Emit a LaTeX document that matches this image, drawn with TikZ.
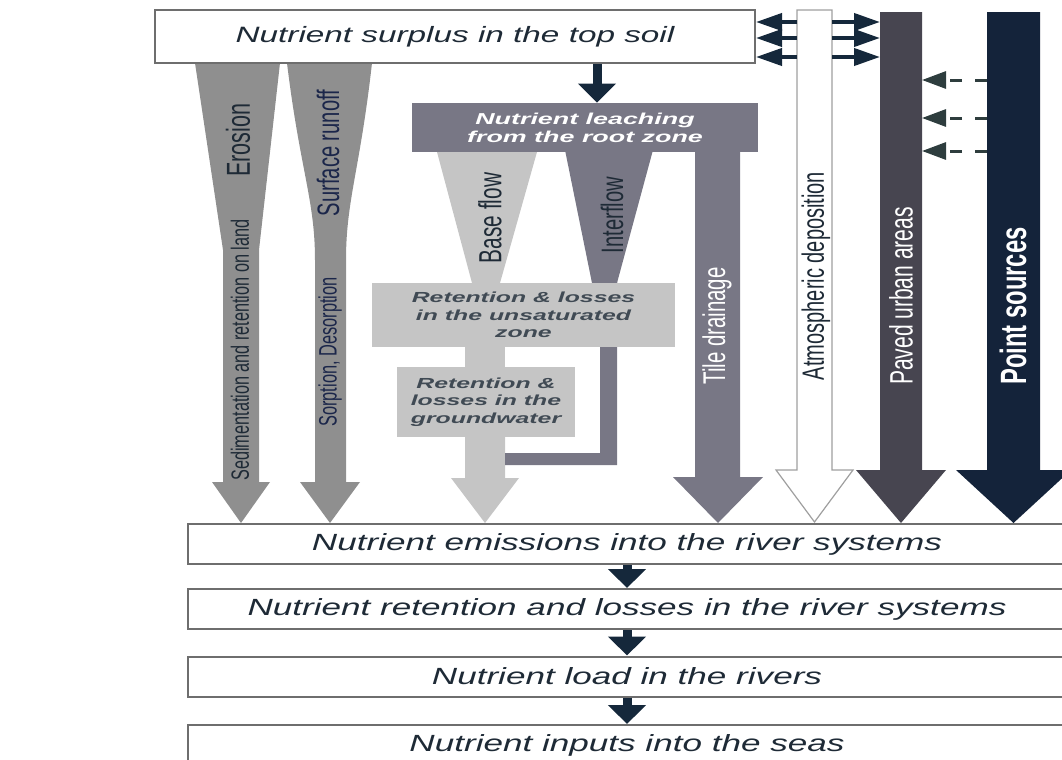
\documentclass[tikz,border=0pt]{standalone}
\usepackage{fontspec}
\setmainfont{Liberation Sans}
\newfontfamily\widesans[FakeStretch=1.5]{Liberation Sans}
\newfontfamily\zonesans[FakeStretch=1.7]{Liberation Sans}
\newfontfamily\narrowsans[FakeStretch=0.65]{Liberation Sans}
\usepackage{tikz}
\usetikzlibrary{arrows.meta,positioning}
\definecolor{ErosionGray}{HTML}{8F8F8F}
\definecolor{ZoneGray}{HTML}{C5C5C5}
\definecolor{LeachGray}{HTML}{787785}
\definecolor{UrbanGray}{HTML}{474550}
\definecolor{PointNavy}{HTML}{14233A}
\definecolor{ArrowNavy}{HTML}{15283B}
\definecolor{DashSlate}{HTML}{2E3D3E}
\definecolor{BorderGray}{HTML}{6E6E6E}
\definecolor{TextDark}{HTML}{1E2A36}
\tikzset{
    % Base box style
    basebox/.style={
        draw=BorderGray,
        fill=white,
        line width=1pt,
        inner sep=0pt,
        align=center,
        text=TextDark
    },
    % Soil box style
    soilbox/.style={
        basebox,
        minimum width=300pt,
        minimum height=26.5pt,
        font=\widesans\itshape\fontsize{11.1}{13}\selectfont
    },
    % River chain box style
    riverbox/.style={
        basebox,
        minimum width=439pt,
        minimum height=20pt,
        font=\widesans\itshape\fontsize{11.7}{13}\selectfont
    },
    % Leaching box style
    leachbox/.style={
        fill=LeachGray,
        inner sep=0pt,
        align=center,
        text=white,
        font=\zonesans\itshape\bfseries\fontsize{7.9}{9}\selectfont
    },
    % Retention zone style
    zonebox/.style={
        fill=ZoneGray,
        inner sep=0pt,
        align=center,
        text=TextDark!85,
        font=\zonesans\itshape\bfseries\fontsize{7.3}{8.8}\selectfont
    },
    % Vertical flow label
    flowlabel/.style={
        rotate=90,
        inner sep=0pt,
        text=TextDark,
        font=\narrowsans\fontsize{#1}{#1}\selectfont
    },
    % Chain arrow
    chainarrow/.style={
        -{Triangle[width=18.5pt,length=9.5pt]},
        line width=4.5pt,
        draw=ArrowNavy
    },
    % Exchange arrow
    exchangearrow/.style={
        -{Triangle[width=8.5pt,length=13pt]},
        line width=2pt,
        draw=ArrowNavy
    },
    % Dashed arrow
    dasharrow/.style={
        -{Triangle[width=8.5pt,length=12pt]},
        line width=1.5pt,
        draw=DashSlate,
        dash pattern=on 6pt off 6.5pt
    }
}
\begin{document}
\begin{tikzpicture}[x=0.5pt, y=-0.5pt]
    \useasboundingbox (0,0) rectangle (1062,760);
    \clip (0,0) rectangle (1062,760);

    % erosion and surface runoff
    \fill[ErosionGray] (195,63) -- (280,63) -- (259,250) -- (259,482) -- (270,482) -- (241,523)
        -- (212,482) -- (223,482) -- (223,250) -- cycle;
    \fill[ErosionGray] (287,63) -- (372,63) .. controls (360,170) and (346,200) .. (346,260)
        -- (346,482) -- (360,482) -- (330,523) -- (300,482) -- (315,482) -- (315,260)
        .. controls (315,200) and (300,170) .. (287,63) -- cycle;

    % base flow
    \fill[ZoneGray] (437,152) -- (537,152) -- (500,283) -- (472,283) -- cycle;
    \fill[ZoneGray] (465,345) rectangle (505,369);
    \fill[ZoneGray] (465,435) -- (505,435) -- (505,478) -- (519,478) -- (485,523) -- (451,478)
        -- (465,478) -- cycle;

    % interflow and tile drainage
    \fill[LeachGray] (565,150) -- (653,150) -- (617,283) -- (592,283) -- cycle;
    \fill[LeachGray] (600,280) -- (617,280) -- (617,465) -- (505,465) -- (505,453) -- (600,453) -- cycle;
    \fill[LeachGray] (695,150) -- (740,150) -- (740,477) -- (763,477) -- (718,523) -- (673,477)
        -- (695,477) -- cycle;

    % atmospheric, urban, point sources
    \filldraw[fill=white, draw=gray!75, line width=0.6pt] (797,10) -- (832,10) -- (832,470) -- (853,470)
        -- (814.5,522) -- (776,470) -- (797,470) -- cycle;
    \fill[UrbanGray] (880,12) -- (922,12) -- (922,470) -- (946,470) -- (901,523) -- (856,470)
        -- (880,470) -- cycle;
    \fill[PointNavy] (987,12) -- (1040,12) -- (1040,470) -- (1071,470) -- (1013.5,523) -- (956,470)
        -- (987,470) -- cycle;
    \coordinate (atmL) at (797,0);
    \coordinate (atmR) at (832,0);
    \coordinate (pavL) at (880,0);
    \coordinate (pavR) at (922,0);
    \coordinate (ptL) at (987,0);
    \coordinate (rootx) at (597,0);

    % boxes
    \node[soilbox] (soil) at (455,36.5) {Nutrient surplus in the top soil};
    \node[leachbox, minimum width=173pt, minimum height=24.5pt] (leach) at (585,127.5)
        {Nutrient leaching\\from the root zone};
    \node[zonebox, minimum width=151.5pt, minimum height=32pt] (unsat) at (523.5,315)
        {Retention \& losses\\in the unsaturated\\zone};
    \node[zonebox, minimum width=89pt, minimum height=35pt] (ground) at (486,402)
        {Retention \&\\losses in the\\groundwater};
    \node[riverbox] (emis) at (627,544) {Nutrient emissions into the river systems};
    \node[riverbox] (retn) at (627,609) {Nutrient retention and losses in the river systems};
    \node[riverbox] (load) at (627,676.5) {Nutrient load in the rivers};
    \node[riverbox] (seas) at (627,745) {Nutrient inputs into the seas};

    % arrows
    \draw[chainarrow, line width=4.5pt] (soil.south -| rootx) -- (leach.north -| rootx);
    \draw[chainarrow] (emis) -- (retn);
    \draw[chainarrow] (retn) -- (load);
    \draw[chainarrow] (load) -- (seas);
    \foreach \y in {22,38,57} {
        \draw[exchangearrow] (atmL |- 0,\y) -- (soil.east |- 0,\y);
        \draw[exchangearrow] (atmR |- 0,\y) -- (pavL |- 0,\y);
    }
    \foreach \y in {80,118,151}
        \draw[dasharrow] (ptL |- 0,\y) -- (pavR |- 0,\y);

    % flow labels
    \node[flowlabel=16.6] (erosion) at (238,140) {Erosion};
    \node[flowlabel=12.5] (sediment) at (240,350) {Sedimentation and retention on land};
    \node[flowlabel=15.5, text=TextDark!90!blue] (runoff) at (328,153) {Surface runoff};
    \node[flowlabel=12.6, text=TextDark!90!blue] (sorption) at (330,352) {Sorption, Desorption};
    \node[flowlabel=16] (baseflow) at (490,218) {Base flow};
    \node[flowlabel=15.5] (interflow) at (612,215) {Interflow};
    \node[flowlabel=15.7, text=white] (tile) at (717,326) {Tile drainage};
    \node[flowlabel=15.4] (atmos) at (816,276) {Atmospheric deposition};
    \node[flowlabel=16.2, text=white] (paved) at (901,296) {Paved urban areas};
    \node[flowlabel=18.3, text=white] (point) at (1013,306) {\bfseries Point sources};
\end{tikzpicture}
\end{document}
